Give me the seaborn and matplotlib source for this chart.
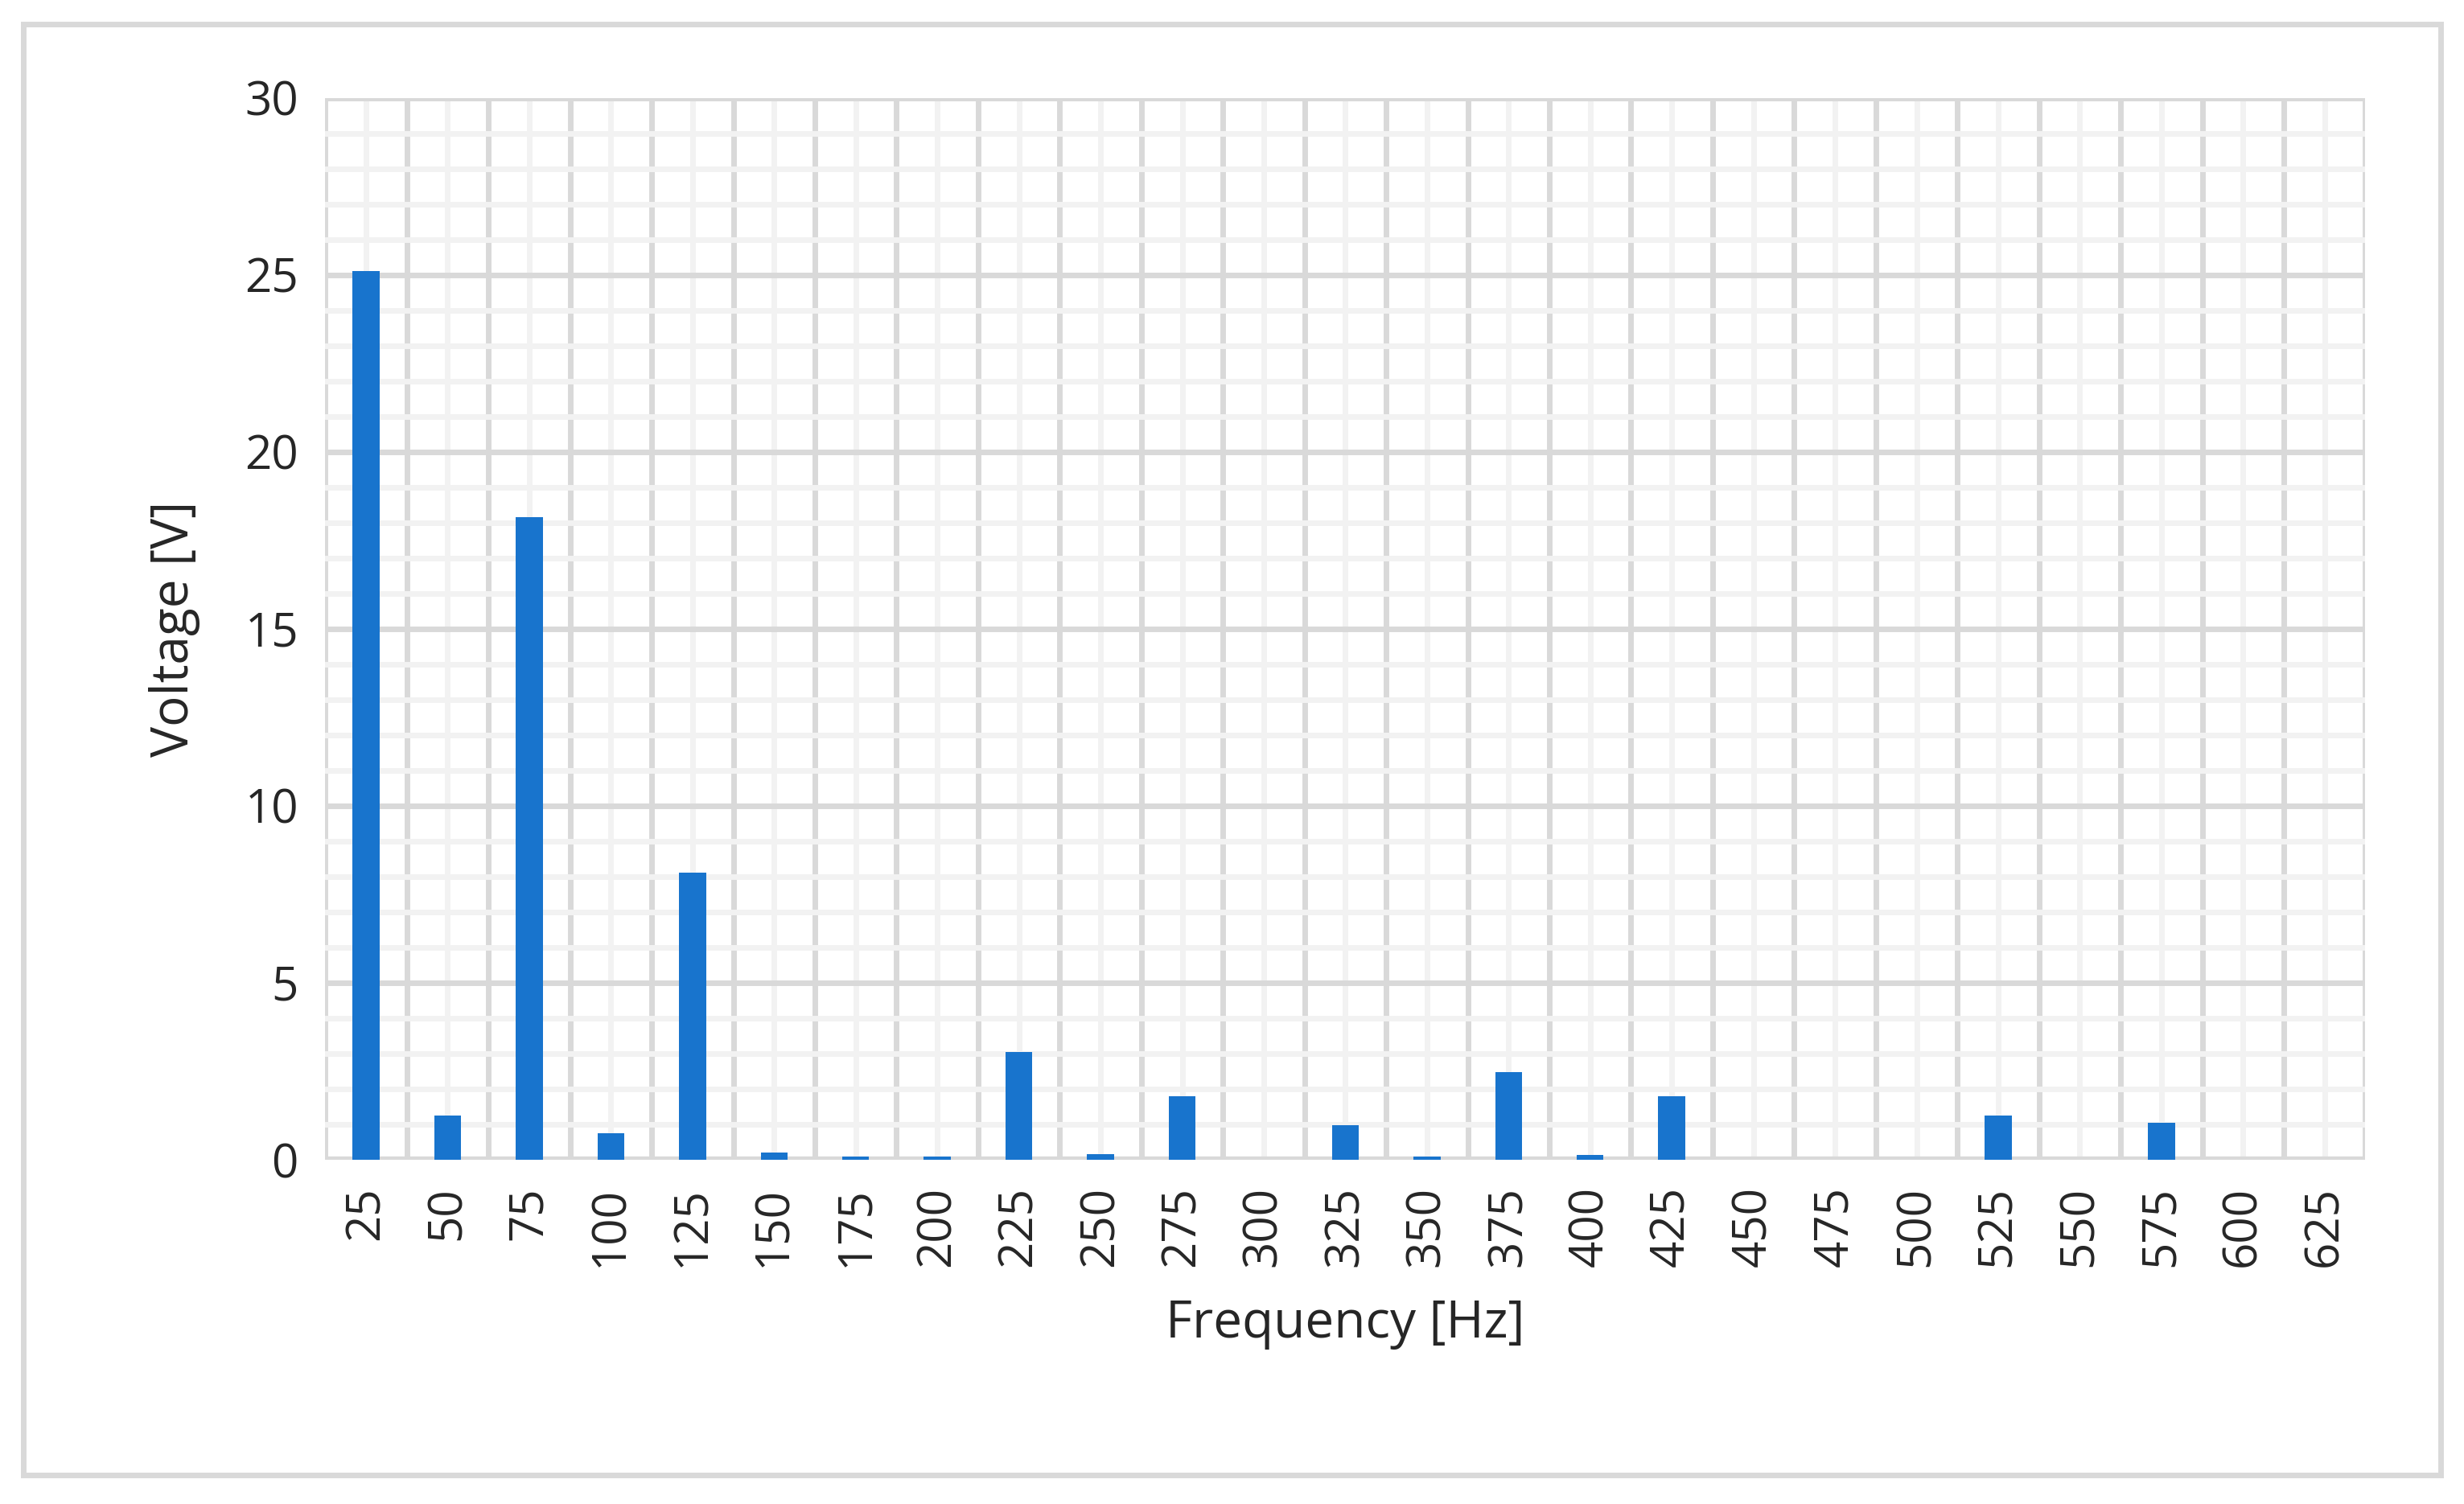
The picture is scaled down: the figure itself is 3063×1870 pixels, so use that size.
import matplotlib
matplotlib.use('Agg')
import matplotlib.pyplot as plt
import seaborn as sns
import pandas as pd
from matplotlib.patches import Rectangle
from matplotlib.ticker import MultipleLocator, FixedLocator

# ── Data ──────────────────────────────────────────────────────────────────────
frequencies = [25, 50, 75, 100, 125, 150, 175, 200, 225, 250, 275, 300, 325,
               350, 375, 400, 425, 450, 475, 500, 525, 550, 575, 600, 625]
voltages = [25.1, 1.25, 18.15, 0.75, 8.1, 0.2, 0.08, 0.08, 3.05, 0.15, 1.78, 0.0, 0.98,
            0.08, 2.48, 0.12, 1.78, 0.0, 0.0, 0.0, 1.25, 0.0, 1.05, 0.0, 0.0]

df = pd.DataFrame({"freq": [str(f) for f in frequencies], "volt": voltages})

sns.set_style("white")
plt.rcParams['font.family'] = ['Open Sans', 'DejaVu Sans']

fig = plt.figure(figsize=(15.315, 9.35), dpi=200)
ax = fig.add_axes([0.132, 0.229, 0.828, 0.706])

sns.barplot(data=df, x="freq", y="volt", color="#1874CD", saturation=1,
            width=0.33, linewidth=0, ax=ax, zorder=3)

ax.set_xlim(-0.5, len(frequencies) - 0.5)
ax.set_ylim(0, 30)
ax.yaxis.set_major_locator(MultipleLocator(5))
ax.yaxis.set_minor_locator(MultipleLocator(1))
ax.xaxis.set_minor_locator(FixedLocator([i - 0.5 for i in range(len(frequencies) + 1)]))

# minor grid (light) then major boundaries (darker)
ax.grid(which="minor", axis="y", color="#F2F2F2", lw=2.5, zorder=0)
ax.grid(which="major", axis="x", color="#F2F2F2", lw=2.5, zorder=0)
ax.grid(which="major", axis="y", color="#D9D9D9", lw=2.5, zorder=1)
ax.grid(which="minor", axis="x", color="#D9D9D9", lw=2.5, zorder=1)

for s in ax.spines.values():
    s.set_visible(False)
ax.axhline(0, color="#D9D9D9", lw=3, zorder=2)

ax.tick_params(axis="x", which="both", length=0, labelsize=21, rotation=90, pad=12)
ax.tick_params(axis="y", which="both", length=0, labelsize=21, pad=12)
ax.set_xlabel("Frequency [Hz]", fontsize=23, labelpad=14)
ax.set_ylabel("Voltage [V]", fontsize=23, labelpad=20)

# outer chart border
fig.patches.append(Rectangle((0.0096, 0.019), 0.981, 0.965, transform=fig.transFigure,
                             fill=False, edgecolor="#D9D9D9", lw=2.5))

plt.savefig("out.png", dpi=200, facecolor="white")
